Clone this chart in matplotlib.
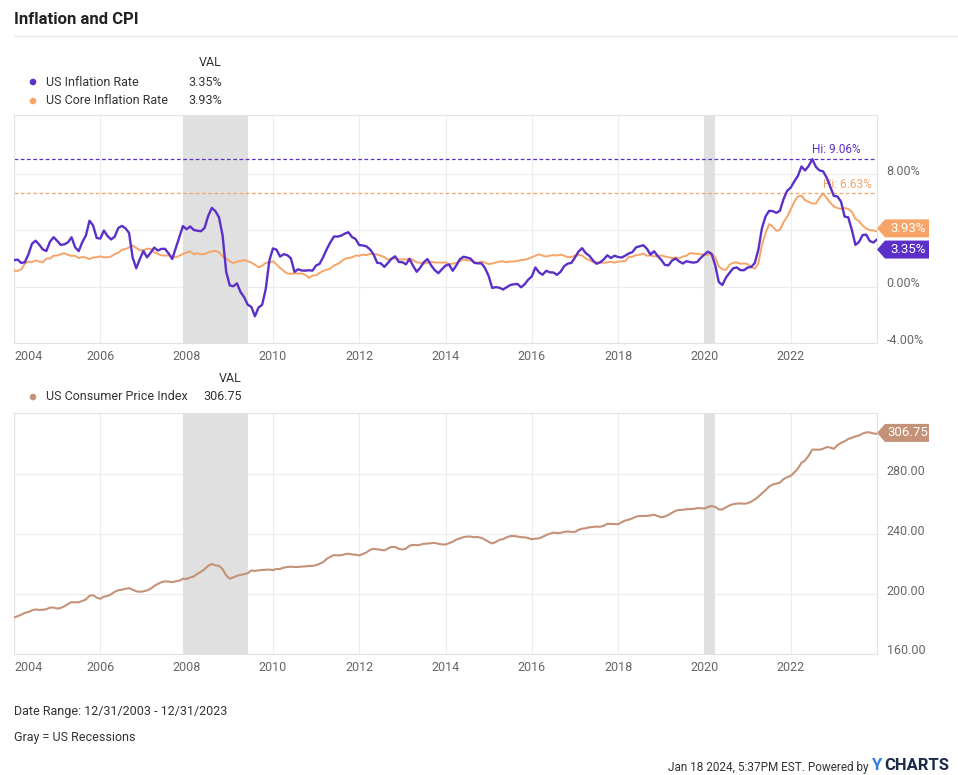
import numpy as np
import matplotlib
matplotlib.use("Agg")
import matplotlib.pyplot as plt
from matplotlib.patches import Polygon, Circle
from matplotlib.transforms import IdentityTransform, ScaledTranslation
from matplotlib.lines import Line2D

plt.rcParams['font.family'] = ['Roboto', 'DejaVu Sans']

# monthly values, Dec 2003 .. Dec 2023
inflation = [
    1.88,
    1.93, 1.69, 1.74, 2.29, 3.05, 3.27, 2.99, 2.65, 2.54, 3.19, 3.52, 3.26,
    2.97, 3.01, 3.15, 3.51, 2.80, 2.53, 3.17, 3.64, 4.69, 4.35, 3.46, 3.42,
    3.99, 3.60, 3.36, 3.55, 4.17, 4.32, 4.15, 3.82, 2.06, 1.31, 1.97, 2.54,
    2.08, 2.42, 2.78, 2.57, 2.69, 2.69, 2.36, 1.97, 2.76, 3.54, 4.31, 4.08,
    4.28, 4.03, 3.98, 3.94, 4.18, 5.02, 5.60, 5.37, 4.94, 3.66, 1.07, 0.09,
    0.03, 0.24, -0.38, -0.74, -1.28, -1.43, -2.10, -1.48, -1.29, -0.18, 1.84, 2.72,
    2.63, 2.14, 2.31, 2.24, 2.02, 1.05, 1.24, 1.15, 1.14, 1.17, 1.14, 1.50,
    1.63, 2.11, 2.68, 3.16, 3.57, 3.56, 3.63, 3.77, 3.87, 3.53, 3.39, 2.96,
    2.93, 2.87, 2.65, 2.30, 1.70, 1.66, 1.41, 1.69, 1.99, 2.16, 1.76, 1.74,
    1.59, 1.98, 1.47, 1.06, 1.36, 1.75, 1.96, 1.52, 1.18, 0.96, 1.24, 1.50,
    1.58, 1.13, 1.51, 1.95, 2.13, 2.07, 1.99, 1.70, 1.66, 1.66, 1.32, 0.76,
    -0.09, -0.03, -0.07, -0.20, -0.04, 0.12, 0.17, 0.20, -0.04, 0.17, 0.50, 0.73,
    1.37, 1.02, 0.85, 1.13, 1.02, 1.01, 0.84, 1.06, 1.46, 1.64, 1.69, 2.07,
    2.50, 2.74, 2.38, 2.20, 1.87, 1.63, 1.73, 1.94, 2.23, 2.04, 2.20, 2.11,
    2.07, 2.21, 2.36, 2.46, 2.80, 2.87, 2.95, 2.70, 2.28, 2.52, 2.18, 1.91,
    1.55, 1.52, 1.86, 2.00, 1.79, 1.65, 1.81, 1.75, 1.71, 1.76, 2.05, 2.29,
    2.49, 2.33, 1.54, 0.33, 0.12, 0.65, 0.99, 1.31, 1.37, 1.18, 1.17, 1.36,
    1.40, 1.68, 2.62, 4.16, 4.99, 5.39, 5.37, 5.25, 5.39, 6.22, 6.81, 7.04,
    7.48, 7.87, 8.54, 8.26, 8.58, 9.06, 8.52, 8.26, 8.20, 7.75, 7.11, 6.45,
    6.41, 6.04, 4.98, 4.93, 4.05, 2.97, 3.18, 3.67, 3.70, 3.24, 3.14, 3.35,
]

core_inflation = [
    1.14,
    1.12, 1.23, 1.63, 1.79, 1.74, 1.87, 1.79, 1.73, 2.00, 2.00, 2.20, 2.22,
    2.30, 2.38, 2.26, 2.19, 2.20, 2.03, 2.11, 2.07, 1.96, 2.08, 2.09, 2.16,
    2.09, 2.09, 2.14, 2.32, 2.42, 2.63, 2.68, 2.79, 2.93, 2.75, 2.59, 2.58,
    2.70, 2.68, 2.45, 2.33, 2.23, 2.21, 2.23, 2.14, 2.09, 2.20, 2.33, 2.43,
    2.51, 2.31, 2.38, 2.30, 2.32, 2.44, 2.51, 2.54, 2.45, 2.17, 2.01, 1.80,
    1.68, 1.77, 1.84, 1.89, 1.81, 1.71, 1.56, 1.38, 1.49, 1.70, 1.71, 1.81,
    1.59, 1.33, 1.12, 0.94, 0.92, 0.95, 0.94, 0.94, 0.84, 0.63, 0.79, 0.81,
    0.98, 1.12, 1.21, 1.29, 1.52, 1.61, 1.79, 1.98, 2.04, 2.09, 2.21, 2.20,
    2.28, 2.24, 2.33, 2.31, 2.29, 2.20, 2.10, 1.92, 1.98, 2.01, 1.94, 1.94,
    1.93, 2.00, 1.89, 1.73, 1.70, 1.64, 1.70, 1.77, 1.72, 1.72, 1.71, 1.73,
    1.60, 1.64, 1.68, 1.82, 1.94, 1.87, 1.86, 1.74, 1.69, 1.80, 1.71, 1.61,
    1.64, 1.72, 1.78, 1.81, 1.74, 1.79, 1.79, 1.84, 1.89, 1.92, 1.98, 2.09,
    2.20, 2.30, 2.21, 2.14, 2.21, 2.24, 2.22, 2.28, 2.20, 2.10, 2.11, 2.21,
    2.26, 2.22, 2.00, 1.89, 1.74, 1.71, 1.71, 1.70, 1.73, 1.77, 1.71, 1.78,
    1.81, 1.82, 2.12, 2.13, 2.24, 2.27, 2.35, 2.20, 2.22, 2.15, 2.19, 2.21,
    2.15, 2.09, 2.03, 2.08, 2.01, 2.14, 2.20, 2.39, 2.36, 2.34, 2.30, 2.26,
    2.27, 2.37, 2.10, 1.44, 1.24, 1.19, 1.57, 1.70, 1.73, 1.63, 1.65, 1.62,
    1.40, 1.28, 1.65, 2.96, 3.80, 4.45, 4.27, 3.98, 4.04, 4.58, 4.96, 5.48,
    6.04, 6.41, 6.47, 6.15, 6.02, 5.91, 5.91, 6.32, 6.63, 6.30, 5.96, 5.71,
    5.58, 5.54, 5.59, 5.52, 5.33, 4.83, 4.65, 4.35, 4.13, 4.02, 4.00, 3.93,
]

cpi = [
    184.3,
    185.2, 186.2, 187.4, 188.0, 189.1, 189.7, 189.4, 189.5, 189.9, 190.9, 191.0, 190.3,
    190.7, 191.8, 193.3, 194.6, 194.4, 194.5, 195.4, 196.4, 198.8, 199.2, 197.6, 196.8,
    198.3, 198.7, 199.8, 201.5, 202.5, 202.9, 203.5, 203.9, 202.9, 201.8, 201.5, 201.8,
    202.4, 203.5, 205.4, 206.7, 207.9, 208.4, 208.3, 207.9, 208.5, 208.9, 210.2, 210.0,
    211.1, 211.7, 213.5, 214.8, 216.6, 218.8, 220.0, 219.1, 218.8, 216.6, 212.4, 210.2,
    211.1, 212.2, 212.7, 213.2, 213.9, 215.7, 215.4, 215.8, 216.0, 216.2, 216.3, 215.9,
    216.7, 216.7, 217.6, 218.0, 218.2, 218.0, 218.0, 218.3, 218.4, 218.7, 218.8, 219.2,
    220.2, 221.3, 223.5, 224.9, 226.0, 225.7, 225.9, 226.5, 226.9, 226.4, 226.2, 225.7,
    226.7, 227.7, 229.4, 230.1, 229.8, 229.5, 229.1, 230.4, 231.4, 231.3, 230.2, 229.6,
    230.3, 232.2, 232.8, 232.5, 232.9, 233.5, 233.6, 233.9, 234.1, 233.5, 233.1, 233.0,
    233.9, 234.8, 236.3, 237.1, 237.9, 238.3, 238.3, 237.9, 238.0, 237.4, 236.2, 234.8,
    233.7, 234.7, 236.1, 236.6, 237.8, 238.6, 238.7, 238.3, 237.9, 237.8, 237.3, 236.5,
    236.9, 237.1, 238.1, 239.3, 240.2, 241.0, 240.6, 240.8, 241.4, 241.7, 241.4, 241.4,
    242.8, 243.6, 243.8, 244.5, 244.7, 245.0, 244.8, 245.5, 246.8, 246.7, 246.7, 246.5,
    247.9, 249.0, 249.6, 250.5, 251.6, 252.0, 252.0, 252.1, 252.4, 252.9, 252.0, 251.2,
    251.7, 252.8, 254.2, 255.5, 256.1, 256.1, 256.6, 256.6, 256.8, 257.3, 257.2, 257.0,
    258.0, 258.7, 258.1, 256.4, 256.4, 257.8, 259.1, 259.9, 260.3, 260.4, 260.2, 260.5,
    261.6, 263.0, 264.9, 267.1, 269.2, 271.7, 273.0, 273.6, 274.3, 276.6, 277.9, 278.8,
    281.1, 283.7, 287.5, 289.1, 292.3, 296.3, 296.3, 296.2, 296.8, 298.0, 297.7, 296.8,
    299.2, 300.8, 301.8, 303.4, 304.1, 305.1, 305.7, 307.0, 307.8, 307.7, 307.1, 306.75,
]

recession_start = [2007.92, 2020.0]
recession_end = [2009.42, 2020.25]
year_ticks = list(range(2004, 2023, 2))
rate_ticks = [-4, 0, 4, 8]
cpi_ticks = [160, 200, 240, 280]

# month-end positions: 12/31/2003 -> 2004.0
dates = 2004.0 + np.arange(len(inflation)) / 12.0

PURPLE = '#5a30c8'
ORANGE = '#f6a468'
BROWN = '#c39277'
GRID = '#ececec'
TXT = '#333333'
TICK = '#666666'

W, H = 958, 775
fig = plt.figure(figsize=(W / 100, H / 100), dpi=100)
fig.patch.set_facecolor('white')


def fx(x):
    return x / W


def fy(y):
    return 1 - y / H


def box(left, top, right, bottom):
    return [fx(left), fy(bottom), fx(right) - fx(left), fy(top) - fy(bottom)]


ax1 = fig.add_axes(box(14, 115, 877, 343))
ax2 = fig.add_axes(box(14, 413, 877, 654))


def style(ax, ticks, fmt, lims):
    ax.set_xlim(2004.0, 2024.0)
    ax.set_ylim(*lims)
    for s in ax.spines.values():
        s.set_color('#e3e3e3')
        s.set_linewidth(0.8)
    ax.yaxis.tick_right()
    ax.set_yticks(ticks)
    ax.set_yticklabels([fmt(t) for t in ticks])
    ax.set_xticks(year_ticks)
    ax.set_xticklabels([str(y) for y in year_ticks])
    ax.xaxis.get_ticklabels()[0].set_horizontalalignment('left')
    ax.tick_params(length=0, labelsize=9, labelcolor=TICK)
    ax.tick_params(axis='y', pad=7)
    ax.tick_params(axis='x', pad=5)
    # y labels sit a little above their grid lines
    lift = ScaledTranslation(0, 4.5 / 100, fig.dpi_scale_trans)
    for lbl in ax.yaxis.get_majorticklabels():
        lbl.set_transform(lbl.get_transform() + lift)
    ax.grid(True, color=GRID, linewidth=0.8)
    ax.set_axisbelow(True)
    for a, b in zip(recession_start, recession_end):
        ax.axvspan(a, b, color='#e0e0e0', lw=0, zorder=1)


style(ax1, rate_ticks, lambda t: '%.2f%%' % t, (-4.0, 12.2))
style(ax2, cpi_ticks, lambda t: '%.2f' % t, (160, 320.7))

ax1.plot(dates, core_inflation, color=ORANGE, lw=1.4, zorder=3)
ax1.plot(dates, inflation, color=PURPLE, lw=1.7, zorder=4)
ax2.plot(dates, cpi, color=BROWN, lw=1.5, zorder=3)

# high-water lines
for series, col in [(inflation, PURPLE), (core_inflation, ORANGE)]:
    i = int(np.argmax(series))
    ax1.axhline(series[i], color=col, lw=0.9, ls=(0, (3, 2)), zorder=2)
    ax1.annotate('Hi: %.2f%%' % series[i], (dates[i], series[i]),
                 xytext=(0, 2), textcoords='offset points',
                 ha='left', va='bottom', fontsize=8.5, color=col, zorder=2)


def tag(ax, value, text, col, shift=0):
    # pointer-shaped value label on the right edge of the axes
    _, y = ax.transData.transform((2024.0, value))
    y += shift
    x0 = ax.transAxes.transform((1, 0))[0]
    h = 9
    pts = [(x0, y), (x0 + 8, y + h), (x0 + 52, y + h), (x0 + 52, y - h), (x0 + 8, y - h)]
    fig.add_artist(Polygon(pts, closed=True, facecolor=col, edgecolor='none',
                           transform=IdentityTransform(), zorder=10))
    fig.text((x0 + 31) / W, y / H, text, color='white', fontsize=9.5,
             ha='center', va='center', zorder=11)


tag(ax1, core_inflation[-1], '%.2f%%' % core_inflation[-1], ORANGE, shift=3)
tag(ax1, inflation[-1], '%.2f%%' % inflation[-1], PURPLE, shift=-10)
tag(ax2, cpi[-1], '%.2f' % cpi[-1], BROWN, shift=1)

# header
fig.text(fx(14), fy(20), 'Inflation and CPI', fontsize=12, fontweight='bold',
         color='#222222', va='center')
fig.add_artist(Line2D([fx(14), 1], [fy(36), fy(36)], color='#e6e6e6', lw=0.8))


def legend_row(y, label, value, col, vx):
    fig.add_artist(Circle((33, H - y), 3.3, facecolor=col, edgecolor='none',
                          transform=IdentityTransform()))
    fig.text(fx(46), fy(y), label, fontsize=9, color=TXT, va='center')
    fig.text(fx(vx), fy(y), value, fontsize=9, color=TXT, va='center', ha='right')


fig.text(fx(222), fy(62), 'VAL', fontsize=9, color=TXT, va='center', ha='right')
legend_row(82, 'US Inflation Rate', '%.2f%%' % inflation[-1], PURPLE, 222)
legend_row(101, 'US Core Inflation Rate', '%.2f%%' % core_inflation[-1], ORANGE, 222)
fig.text(fx(242), fy(379), 'VAL', fontsize=9, color=TXT, va='center', ha='right')
legend_row(397, 'US Consumer Price Index', '%.2f' % cpi[-1], BROWN, 242)

# footer
fig.text(fx(14), fy(712), 'Date Range: 12/31/2003 - 12/31/2023', fontsize=9,
         color=TXT, va='center')
fig.text(fx(14), fy(737), 'Gray = US Recessions', fontsize=9, color=TXT, va='center')
fig.text(fx(869), fy(767), 'Jan 18 2024, 5:37PM EST. Powered by', fontsize=8.5,
         color=TXT, va='center', ha='right')
fig.text(fx(871), fy(766), 'Y', fontsize=12, fontweight='bold', color='#2e7fd8',
         va='center')
fig.text(fx(884), fy(766), 'CHARTS', fontsize=12, fontweight='bold', color='#1c2a4a',
         va='center')

fig.savefig('out.png', dpi=100, facecolor='white')
